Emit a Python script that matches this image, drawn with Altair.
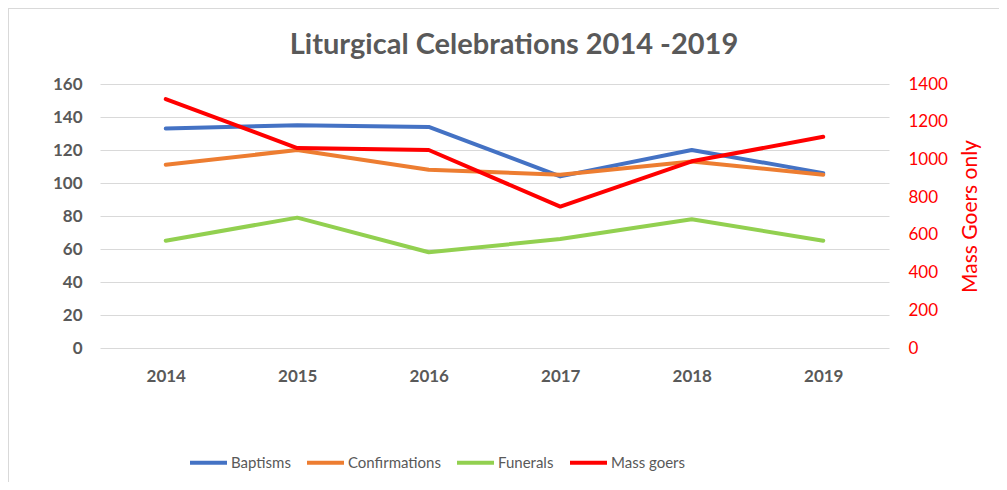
import altair as alt
import pandas as pd

years = ["2014", "2015", "2016", "2017", "2018", "2019"]
baptisms = [133, 135, 134, 104, 120, 106]
confirmations = [111, 120, 108, 105, 113, 105]
funerals = [65, 79, 58, 66, 78, 65]
mass_goers = [1320, 1060, 1050, 750, 990, 1120]

series_names = ["Baptisms", "Confirmations", "Funerals", "Mass goers"]
series_colors = ["#4472C4", "#ED7D31", "#92D050", "#FF0000"]
left_ticks = [0, 20, 40, 60, 80, 100, 120, 140, 160]
right_ticks = [0, 200, 400, 600, 800, 1000, 1200, 1400]
chart_title = "Liturgical Celebrations 2014 -2019"

rows = []
for name, vals in zip(series_names[:3], [baptisms, confirmations, funerals]):
    for y, v in zip(years, vals):
        rows.append({"Year": y, "Series": name, "Value": v})
left_df = pd.DataFrame(rows)
right_df = pd.DataFrame({"Year": years, "Series": "Mass goers", "Value": mass_goers})

FONT = "Lato"
GRAY = "#595959"
W, H = 789, 264

x_enc = alt.X("Year:O", scale=alt.Scale(type="point", padding=0.5), sort=years,
              axis=alt.Axis(title=None, domain=False, ticks=False, labelAngle=0,
                            labelFont=FONT, labelFontSize=17, labelFontWeight="bold",
                            labelColor=GRAY, labelPadding=20))
color_enc = alt.Color("Series:N",
                      scale=alt.Scale(domain=series_names, range=series_colors),
                      legend=alt.Legend(title=None, orient="none", direction="horizontal",
                                        legendX=88, legendY=358,
                                        symbolType="stroke", symbolStrokeWidth=4,
                                        symbolSize=1369, labelFont=FONT, labelFontSize=15,
                                        labelColor=GRAY, columnPadding=8, labelOffset=2))

left = alt.Chart(left_df).mark_line(strokeWidth=4, strokeCap="round", strokeJoin="round").encode(
    x=x_enc,
    y=alt.Y("Value:Q", scale=alt.Scale(domain=[0, 160]),
            axis=alt.Axis(title=None, orient="left", values=left_ticks, domain=False, ticks=False,
                          grid=True, gridColor="#d9d9d9", gridWidth=1,
                          labelFont=FONT, labelFontSize=17, labelFontWeight="bold",
                          labelColor=GRAY, labelPadding=18)),
    color=color_enc,
    detail="Series:N",
)

right = alt.Chart(right_df).mark_line(strokeWidth=4, strokeCap="round", strokeJoin="round").encode(
    x=x_enc,
    y=alt.Y("Value:Q", scale=alt.Scale(domain=[0, 1400]),
            axis=alt.Axis(title="Mass Goers only", orient="right", values=right_ticks,
                          format="d", domain=False, ticks=False, grid=False,
                          labelFont=FONT, labelFontSize=17, labelColor="#FF0000",
                          labelPadding=19, titleFont=FONT, titleFontSize=21,
                          titleFontWeight="normal", titleColor="#FF0000",
                          titleAngle=270, titleX=81, titleY=132,
                          titleAlign="center", titleBaseline="middle")),
    color=color_enc,
)

frame = alt.Chart(pd.DataFrame({"k": [0]})).mark_rect(
    fill=None, stroke="#d9d9d9", strokeWidth=2
).encode(
    x=alt.value(-92), x2=alt.value(W + 200), y=alt.value(-76), y2=alt.value(H + 200)
)

title = alt.Chart(pd.DataFrame({"t": [chart_title]})).mark_text(
    font=FONT, fontSize=29, fontWeight="bold", color=GRAY, align="center", baseline="middle"
).encode(text="t:N", x=alt.value(414), y=alt.value(-39))

chart = alt.layer(frame, left, right, title).resolve_scale(y="independent").properties(
    width=W, height=H,
    autosize=alt.AutoSizeParams(type="none"),
    padding={"left": 92, "top": 76, "right": 110, "bottom": 134},
).configure_view(stroke=None)

chart.save("out.html", embed_options={"renderer": "svg", "actions": False})
